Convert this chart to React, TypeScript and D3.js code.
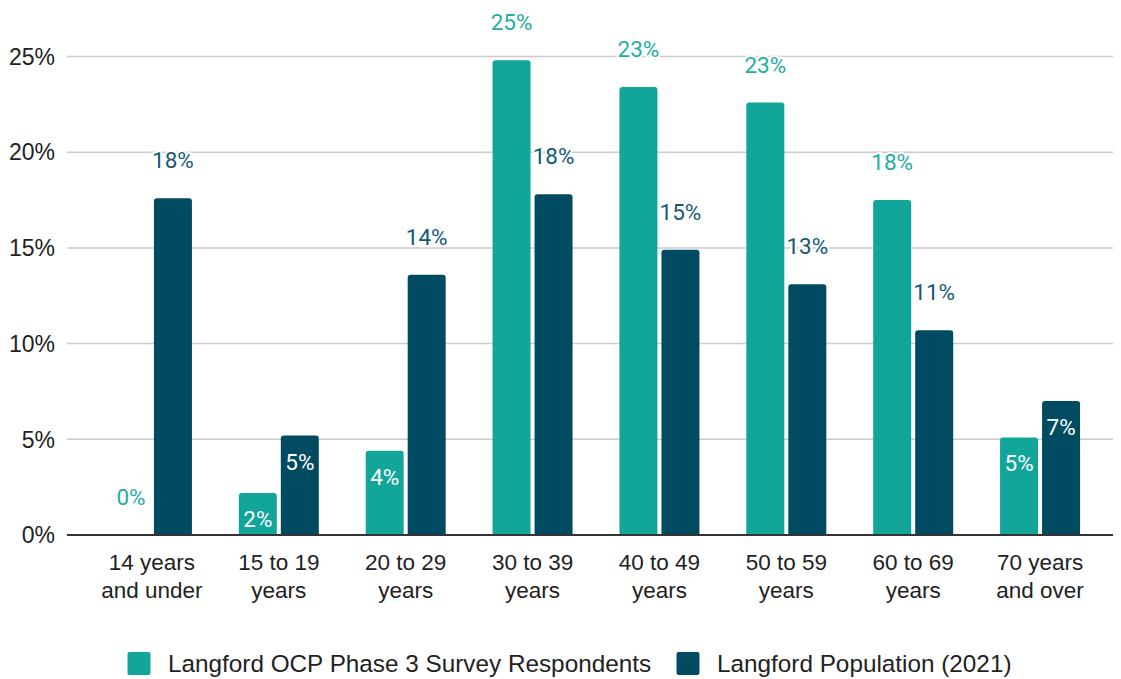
import React from "react";
import * as d3 from "d3";

const categories: string[][] = [
  ["14 years", "and under"],
  ["15 to 19", "years"],
  ["20 to 29", "years"],
  ["30 to 39", "years"],
  ["40 to 49", "years"],
  ["50 to 59", "years"],
  ["60 to 69", "years"],
  ["70 years", "and over"],
];
const respondents: number[] = [0, 2.2, 4.4, 24.8, 23.4, 22.6, 17.5, 5.1];
const population: number[] = [17.6, 5.2, 13.6, 17.8, 14.9, 13.1, 10.7, 7.0];
const seriesNames = ["Langford OCP Phase 3 Survey Respondents", "Langford Population (2021)"];
const yTicks = [0, 5, 10, 15, 20, 25];

const W = 1121;
const H = 679;
const TEAL = "#12a59a";
const DARK = "#014b62";
const TEAL_LABEL = "#22aea2";
const DARK_LABEL = "#155a74";

function topRoundedBar(x: number, y: number, w: number, h: number, r: number) {
  if (h <= 0) return "";
  const rr = Math.min(r, h, w / 2);
  return `M${x},${y + h}V${y + rr}Q${x},${y} ${x + rr},${y}H${x + w - rr}Q${x + w},${y} ${x + w},${y + rr}V${y + h}Z`;
}

export default function App() {
  const x = d3.scaleBand<number>().domain(d3.range(categories.length)).range([88.5, 1103.5]).padding(0);
  const y = d3.scaleLinear().domain([0, 25]).range([535, 56.5]);
  const barW = 38;
  const gap = 4;
  const series = [
    { values: respondents, color: TEAL, label: TEAL_LABEL, offset: -gap / 2 - barW },
    { values: population, color: DARK, label: DARK_LABEL, offset: gap / 2 },
  ];
  const fmt = (v: number) => `${Math.round(v)}%`;

  return (
    <div style={{ position: "absolute", left: 0, top: 0 }}>
      <svg width={W} height={H} style={{ display: "block", background: "#fff" }}>
        {yTicks.map((t) => (
          <g key={t}>
            {t !== 0 && <line x1={67} x2={1113} y1={y(t)} y2={y(t)} stroke="#cccccc" strokeWidth={1.5} />}
            <text
              x={55}
              y={y(t)}
              dy="0.36em"
              textAnchor="end"
              fontFamily="'Liberation Sans', Arial, sans-serif"
              fontSize={23}
              fill="#222"
            >
              {t}%
            </text>
          </g>
        ))}
        {series.map((s, si) =>
          s.values.map((v, i) => {
            const cx = (x(i) as number) + x.bandwidth() / 2;
            const bx = cx + s.offset;
            const top = y(v);
            return (
              <path key={`b${si}-${i}`} d={topRoundedBar(bx, top, barW, y(0) - top, 3)} fill={s.color} />
            );
          })
        )}
        <line x1={67} x2={1113} y1={y(0)} y2={y(0)} stroke="#333" strokeWidth={2} />
        {series.map((s, si) =>
          s.values.map((v, i) => {
            const cx = (x(i) as number) + x.bandwidth() / 2;
            const bcx = cx + s.offset + barW / 2;
            const top = y(v);
            const inside = v > 0 && v < 8;
            const cy = inside ? top + 26 : top - 38;
            return (
              <text
                key={`l${si}-${i}`}
                x={bcx}
                y={cy}
                dy="0.36em"
                textAnchor="middle"
                fontFamily="Roboto, sans-serif"
                fontSize={22.5}
                fill={inside ? "#ffffff" : s.label}
                stroke={inside ? "none" : "#ffffff"}
                strokeWidth={inside ? 0 : 4}
                paintOrder="stroke"
              >
                {fmt(v)}
              </text>
            );
          })
        )}
        {categories.map((lines, i) => {
          const cx = (x(i) as number) + x.bandwidth() / 2;
          return (
            <text
              key={`c${i}`}
              textAnchor="middle"
              fontFamily="'Liberation Sans', Arial, sans-serif"
              fontSize={22.5}
              fill="#222"
            >
              {lines.map((ln, j) => (
                <tspan key={j} x={cx} y={561.5 + j * 28} dy="0.36em">
                  {ln}
                </tspan>
              ))}
            </text>
          );
        })}
        {seriesNames.map((name, i) => {
          const lx = i === 0 ? 127.5 : 676.5;
          return (
            <g key={`lg${i}`}>
              <rect x={lx} y={652} width={23} height={23} rx={2} fill={i === 0 ? TEAL : DARK} />
              <text
                x={lx + 40.5}
                y={663.5}
                dy="0.36em"
                fontFamily="'Liberation Sans', Arial, sans-serif"
                fontSize={24.3}
                fill="#222"
              >
                {name}
              </text>
            </g>
          );
        })}
      </svg>
    </div>
  );
}
